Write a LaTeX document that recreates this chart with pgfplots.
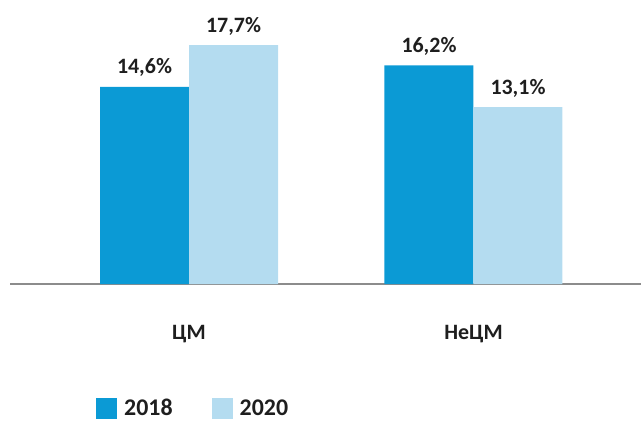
\documentclass[border=0pt]{standalone}
\usepackage{pgfplots}
\pgfplotsset{compat=1.18}
\usepackage{fontspec}
\setmainfont{Carlito}
\definecolor{cA}{HTML}{0B9AD5}
\definecolor{cB}{HTML}{B4DCF0}
\definecolor{txt}{HTML}{1E1E1E}
\definecolor{axl}{HTML}{8C8C8C}
\begin{document}
\begin{tikzpicture}[font=\fontsize{22}{26}\selectfont\bfseries, text=txt]
\useasboundingbox (0,-137bp) rectangle (642bp,284bp);
\begin{axis}[
  at={(10bp,0)}, anchor=south west,
  scale only axis, width=631bp, height=284bp,
  xmin=-0.6292, xmax=1.5888, ymin=0, ymax=21.037,
  ybar, bar width=89bp,
  axis y line=none,
  axis x line*=bottom,
  x axis line style={draw=axl, line width=2bp, -},
  xtick={0,1}, xticklabels={ЦМ, НеЦМ},
  major tick length=0,
  xticklabel style={anchor=base, yshift=-55bp, text=txt},
  /pgf/number format/assume math mode=true,
  nodes near coords={\pgfmathprintnumber[fixed,fixed zerofill,precision=1,use comma,assume math mode=true]{\pgfplotspointmeta}\%},
  nodes near coords style={anchor=base, yshift=13bp, text=txt},
  legend style={at={(83bp,-124bp)}, anchor=west, draw=none, fill=none,
    legend columns=2, /tikz/every even column/.append style={column sep=37bp},
    font=\fontsize{24}{28}\selectfont\bfseries, text=txt},
  legend image code/.code={\fill[#1] (0bp,-10.5bp) rectangle (21bp,10.5bp); \path (26bp,0);},
  clip=false,
]
\addplot[fill=cA, draw=none, bar shift=-44.5bp] coordinates {(0,14.6) (1,16.2)};
\addplot[fill=cB, draw=none, bar shift=44.5bp] coordinates {(0,17.7) (1,13.1)};
\legend{2018, 2020}
\end{axis}
\end{tikzpicture}
\end{document}
